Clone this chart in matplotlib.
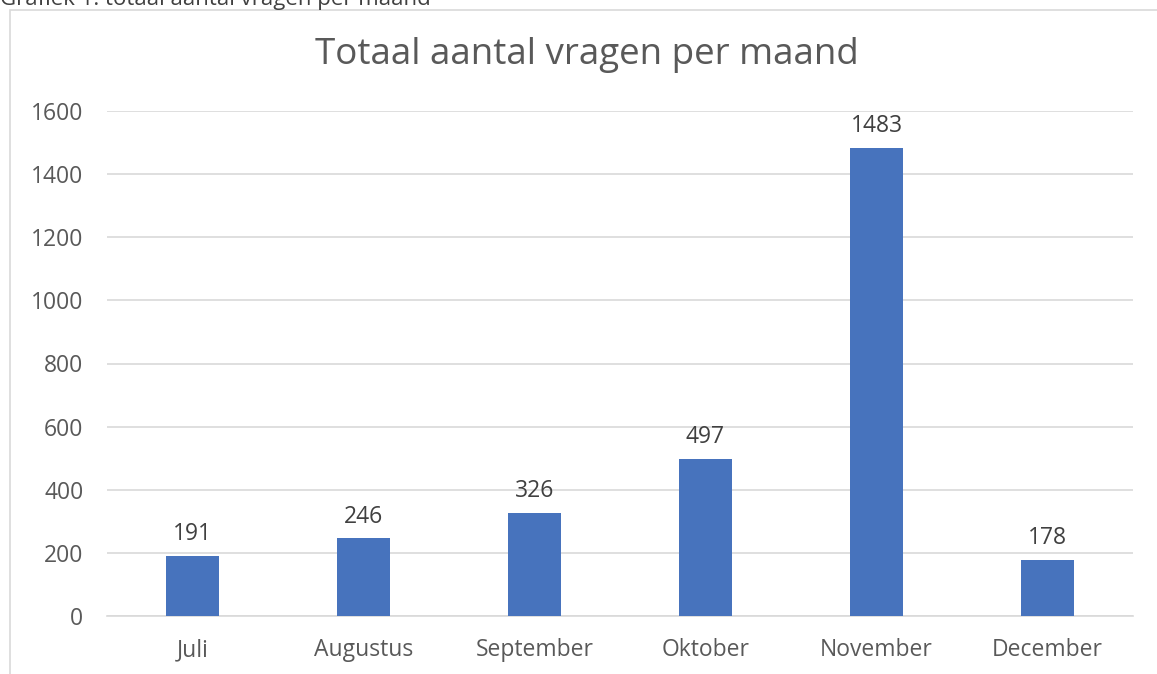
import matplotlib.pyplot as plt
from matplotlib.patches import Rectangle

maanden = ["Juli", "Augustus", "September", "Oktober", "November", "December"]
aantallen = [191, 246, 326, 497, 1483, 178]
yticks = [0, 200, 400, 600, 800, 1000, 1200, 1400, 1600]

plt.rcParams['font.family'] = ['Open Sans', 'DejaVu Sans']
W, H = 1157, 674
fig = plt.figure(figsize=(W / 100, H / 100), dpi=100)

# chart border (partly outside the picture)
fig.patches.append(Rectangle((10 / W, -0.1), 1.2, 1 - 10 / H + 0.1,
                             transform=fig.transFigure, fill=False,
                             edgecolor="#d9d9d9", linewidth=1.2))
# caption, cut off at the top like in the document
fig.text(0, 1 - 5 / H, "Grafiek 1: totaal aantal vragen per maand",
         fontsize=16, color="#404040", va="baseline", ha="left")

ax = fig.add_axes([107 / W, 58 / H, (1133 - 107) / W, (616 - 111) / H])
x = range(len(maanden))
ax.bar(x, aantallen, width=0.315, color="#4773BD", zorder=3)
for xi, v in zip(x, aantallen):
    ax.annotate(str(v), (xi, v), xytext=(0, 7), textcoords="offset points",
                ha="center", va="bottom", fontsize=16.5, color="#404040")

ax.set_xlim(-0.5, len(maanden) - 0.5)
ax.set_ylim(0, 1600)
ax.set_yticks(yticks)
ax.set_xticks(list(x))
ax.set_xticklabels(maanden)
ax.grid(axis="y", color="#d9d9d9", linewidth=1.2, zorder=0)
for s in ["top", "right", "left"]:
    ax.spines[s].set_visible(False)
ax.spines["bottom"].set_color("#d9d9d9")
ax.spines["bottom"].set_linewidth(1.2)
ax.tick_params(length=0, labelsize=16.5, colors="#595959")
ax.tick_params(axis="y", pad=17)
ax.tick_params(axis="x", pad=16)

fig.text(587 / W, 1 - 55 / H, "Totaal aantal vragen per maand",
         fontsize=26.5, color="#595959", ha="center", va="center")

fig.savefig("out.png", dpi=100)
